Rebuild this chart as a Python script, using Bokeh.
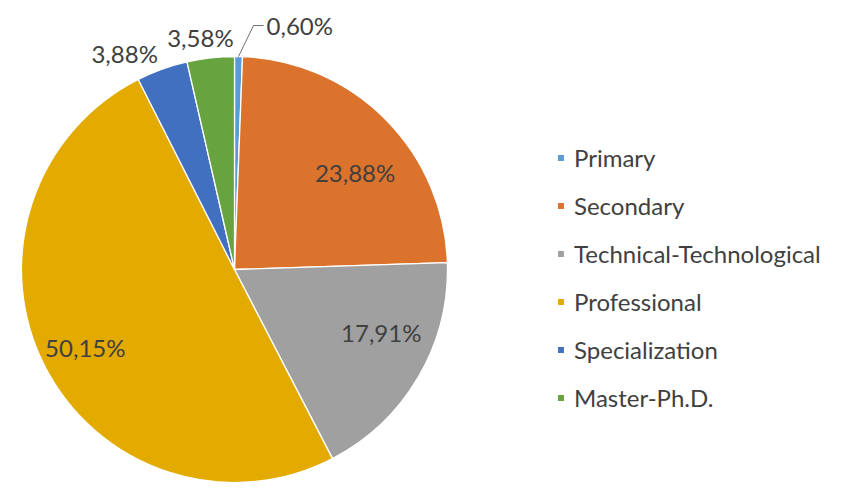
import math
from bokeh.plotting import figure
from bokeh.models import ColumnDataSource, Range1d, Legend, LegendItem
from bokeh.core.properties import value
from bokeh.embed import file_html
from bokeh.resources import INLINE

# ---- data ----
categories = ["Primary", "Secondary", "Technical-Technological",
              "Professional", "Specialization", "Master-Ph.D."]
percents = [0.60, 23.88, 17.91, 50.15, 3.88, 3.58]
labels = ["0,60%", "23,88%", "17,91%", "50,15%", "3,88%", "3,58%"]
colors = ["#5B9BD5", "#DB732C", "#A0A0A0", "#E3AA00", "#4270C0", "#67A43F"]

# ---- layout (1 unit = 1 px, y up) ----
W, H = 827, 482
CX, CY = 234, 482 - 269   # pie centre
R = 213
FONT = "Lato"
TXT = "#404040"

p = figure(width=W, height=H, output_backend="svg", toolbar_location=None,
           x_range=Range1d(0, W), y_range=Range1d(0, H),
           min_border=0, outline_line_color=None)
p.axis.visible = False
p.grid.visible = False
p.background_fill_color = "white"

total = sum(percents)
starts, ends, mids = [], [], []
cum = 0.0
for v in percents:
    a0 = math.pi / 2 - 2 * math.pi * cum / total
    cum += v
    a1 = math.pi / 2 - 2 * math.pi * cum / total
    starts.append(a0)
    ends.append(a1)
    mids.append((a0 + a1) / 2)

src = ColumnDataSource(dict(cat=categories, start=starts, end=ends, color=colors))
wr = p.wedge(x=CX, y=CY, radius=R, radius_units="screen",
             start_angle="start", end_angle="end", direction="clock",
             fill_color="color", line_color="white", line_width=1.3, source=src)

# ---- data labels: (radial factor, angle tweak in degrees) per slice ----
lab_pos = [None, (0.727, -6.0), (0.75, 7.1), (0.79, 0.4), (1.137, 7.1), (1.103, 1.9)]
lx, ly, lt = [], [], []
for i, lp in enumerate(lab_pos):
    if lp is None:
        continue
    f, dt = lp
    a = mids[i] + math.radians(dt)
    lx.append(CX + f * R * math.cos(a))
    ly.append(CY + f * R * math.sin(a))
    lt.append(labels[i])
p.text(x=lx, y=ly, text=lt, text_font=value(FONT), text_font_size="24px",
       text_color=TXT, text_align="center", text_baseline="middle")

# leader label for the tiny slice
a = mids[0]
ex, ey = CX + R * math.cos(a), CY + R * math.sin(a)
kx, ky = ex + 15, ey + 31
p.line(x=[ex, kx, kx + 10], y=[ey, ky, ky], line_color="#707070", line_width=1)
p.text(x=[kx + 13], y=[ky], text=[labels[0]], text_font=value(FONT),
       text_font_size="24px", text_color=TXT, text_align="left",
       text_baseline="middle")

# ---- legend ----
items = [LegendItem(label=c, renderers=[wr], index=i) for i, c in enumerate(categories)]
legend = Legend(items=items, location=(556, 70), orientation="vertical",
                glyph_width=9, glyph_height=9, label_standoff=9, spacing=19,
                padding=0, margin=0,
                label_text_font=FONT, label_text_font_size="24px",
                label_text_color=TXT, border_line_color=None,
                background_fill_alpha=0)
p.add_layout(legend, "center")

open("out.html", "w").write(file_html(p, INLINE))
